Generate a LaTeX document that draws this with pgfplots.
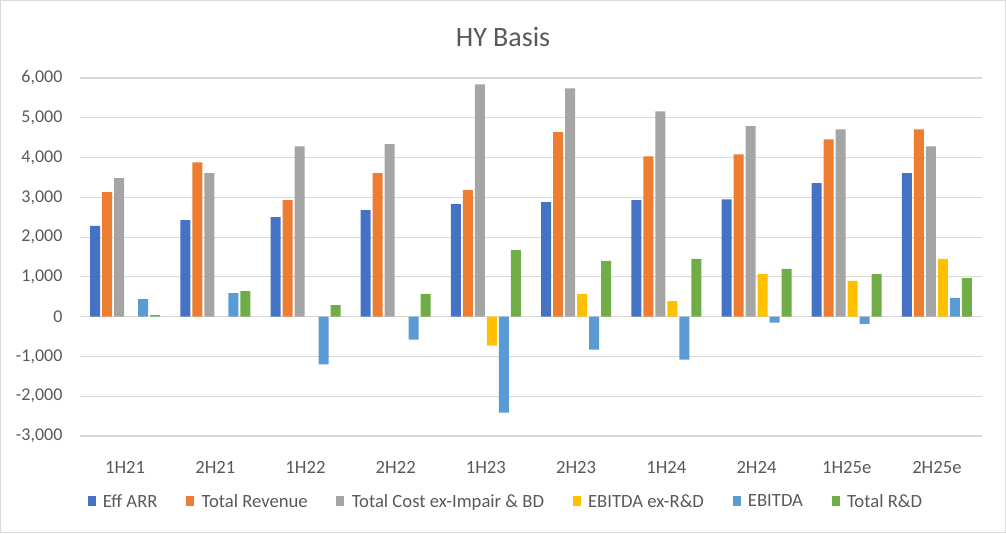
\documentclass[border=0pt]{standalone}
\usepackage{fontspec}
\setmainfont{Carlito}
\usepackage{pgfplots}
\usepackage{pgfplotstable}
\pgfplotsset{compat=1.18}

\definecolor{cArr}{HTML}{4472C4}
\definecolor{cRev}{HTML}{ED7D31}
\definecolor{cCost}{HTML}{A5A5A5}
\definecolor{cExrd}{HTML}{FFC000}
\definecolor{cEbitda}{HTML}{5B9BD5}
\definecolor{cRd}{HTML}{70AD47}
\definecolor{gridc}{HTML}{D9D9D9}
\definecolor{txt}{HTML}{595959}

% half-year values
\pgfplotstableread{
x arr  rev  cost exrd ebitda rd
0 2280 3130 3480 0    440    40
1 2430 3880 3610 0    590    640
2 2500 2930 4280 0    -1200  290
3 2680 3610 4340 0    -580   570
4 2830 3180 5840 -730 -2410  1670
5 2880 4640 5740 570  -830   1400
6 2930 4030 5160 390  -1080  1450
7 2950 4080 4790 1070 -150   1200
8 3360 4460 4710 900  -180   1070
9 3610 4710 4280 1450 470    970
}\hydata

\begin{document}
\begin{tikzpicture}
\begin{axis}[
    name=ax, at={(0,0)}, anchor=south west,
    scale only axis, width=676.5pt, height=268.5pt,
    xmin=-0.5, xmax=9.5, ymin=-3000, ymax=6000,
    ybar=1.5pt, bar width=7.5pt,
    axis line style={draw=none}, tick style={draw=none},
    ymajorgrids, grid style={draw=gridc, line width=0.9pt},
    xtick={0,...,9},
    xticklabels={1H21,2H21,1H22,2H22,1H23,2H23,1H24,2H24,1H25e,2H25e},
    ytick={-3000,-2000,...,6000},
    yticklabels={{-3,000},{-2,000},{-1,000},0,{1,000},{2,000},{3,000},{4,000},{5,000},{6,000}},
    ticklabel style={font=\fontsize{13.5}{16}\selectfont, text=txt, inner sep=0pt},
    xticklabel style={anchor=center, yshift=-19.5pt, font=\fontsize{14}{16}\selectfont},
    yticklabel style={anchor=east, xshift=-13pt},
    legend style={at={(0.471,-0.184)}, anchor=center, legend columns=-1, draw=none,
        font=\fontsize{14}{16}\selectfont, text=txt, fill=none,
        nodes={inner sep=0pt},
        /tikz/every odd column/.append style={column sep=5.5pt},
        /tikz/every even column/.append style={column sep=21.5pt}},
    legend image code/.code={\fill[#1] (0pt,-3.4pt) rectangle (6pt,4.1pt);},
]
\addplot[fill=cArr, draw=none] table[x=x, y=arr] {\hydata};
\addplot[fill=cRev, draw=none] table[x=x, y=rev] {\hydata};
\addplot[fill=cCost, draw=none] table[x=x, y=cost] {\hydata};
\addplot[fill=cExrd, draw=none] table[x=x, y=exrd] {\hydata};
\addplot[fill=cEbitda, draw=none] table[x=x, y=ebitda] {\hydata};
\addplot[fill=cRd, draw=none] table[x=x, y=rd] {\hydata};
\legend{Eff ARR, Total Revenue, Total Cost ex-Impair \& BD, EBITDA ex-R\&D, EBITDA, Total R\&D}
\end{axis}
\path[use as bounding box] (-60pt,-72.75pt) rectangle (694.5pt,327pt);
\draw[draw=gridc, line width=0.75pt] (-59.6pt,-72.4pt) rectangle (694.1pt,326.6pt);
\node[font=\fontsize{21}{25}\selectfont, text=txt] at (317.25pt,299.25pt) {HY Basis};
\end{tikzpicture}
\end{document}
